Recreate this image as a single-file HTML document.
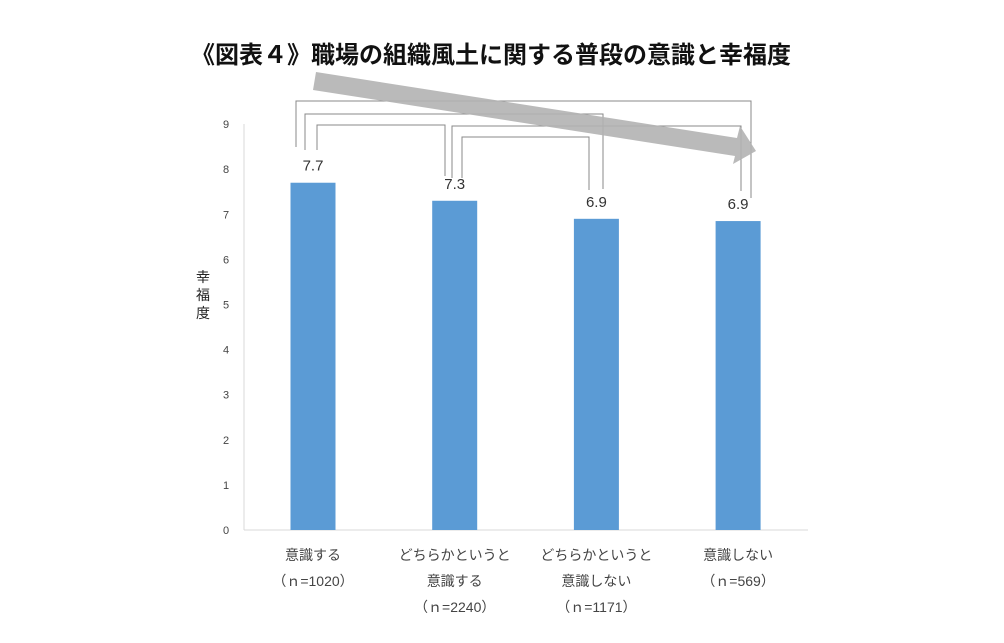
<!DOCTYPE html>
<html><head><meta charset="utf-8"><style>
body{margin:0;background:#fff;}
svg{display:block;font-family:"Liberation Sans","Noto Sans CJK JP",sans-serif;}
</style></head><body>
<svg id="c" width="1004" height="643">
<text x="491" y="63" text-anchor="middle" font-size="24" font-weight="bold" fill="#111">《図表４》職場の組織風土に関する普段の意識と幸福度</text>
<g fill="none" stroke="#888" stroke-width="1">
<polyline points="296,147 296,101 751,101 751,198"/>
<polyline points="305,150 305,114 603,114 603,189"/>
<polyline points="317,150 317,125 445,125 445,176"/>
<polyline points="452,178 452,126 741,126 741,191"/>
<polyline points="462,178 462,137 589,137 589,190"/>
</g>
<g>
<polygon points="316,72 737,138 740,126 756,151 733,164 735,156 313,90" fill="#b3b3b3" opacity="0.9"/>
</g>
<line x1="244" y1="124" x2="244" y2="530" stroke="#d9d9d9"/>
<line x1="244" y1="530" x2="808" y2="530" stroke="#d9d9d9"/>
<text x="0" y="0" font-size="14" fill="#222"><tspan x="196" y="282">幸</tspan><tspan x="196" y="300">福</tspan><tspan x="196" y="318">度</tspan></text>
<g id="ticks"></g><g id="bars"></g><g id="labels"></g>
</svg>
<script>
const categories1=["意識する","どちらかというと","どちらかというと","意識しない"];
const categories2=["（ｎ=1020）","意識する","意識しない","（ｎ=569）"];
const categories3=["","（ｎ=2240）","（ｎ=1171）",""];
const values=[7.7,7.3,6.9,6.85];
const valueLabels=["7.7","7.3","6.9","6.9"];
const yTicks=[0,1,2,3,4,5,6,7,8,9];
const NS="http://www.w3.org/2000/svg";
const y=v=>530-v*45.1;
const xc=i=>313+i*141.7;
function mk(t,a,p,txt){const e=document.createElementNS(NS,t);for(const k in a)e.setAttribute(k,a[k]);if(txt!==undefined)e.textContent=txt;p.appendChild(e);return e;}
const T=document.getElementById('ticks'),B=document.getElementById('bars'),L=document.getElementById('labels');
yTicks.forEach(v=>{const e=mk('text',{x:226,y:y(v)+4,'text-anchor':'middle','font-size':11,fill:'#444'},T,String(v));

});
values.forEach((v,i)=>{
const r=mk('rect',{x:xc(i)-22.5,y:y(v),width:45,height:530-y(v),fill:'#5b9bd5'},B);


const t=mk('text',{x:xc(i),y:y(v)-12,'text-anchor':'middle','font-size':15,fill:'#333'},L,valueLabels[i]);


[categories1,categories2,categories3].forEach((arr,j)=>{if(!arr[i])return;
const c=mk('text',{x:xc(i),y:560+j*26,'text-anchor':'middle','font-size':14,fill:'#444'},L,arr[i]);

});
});
</script>
</body></html>
